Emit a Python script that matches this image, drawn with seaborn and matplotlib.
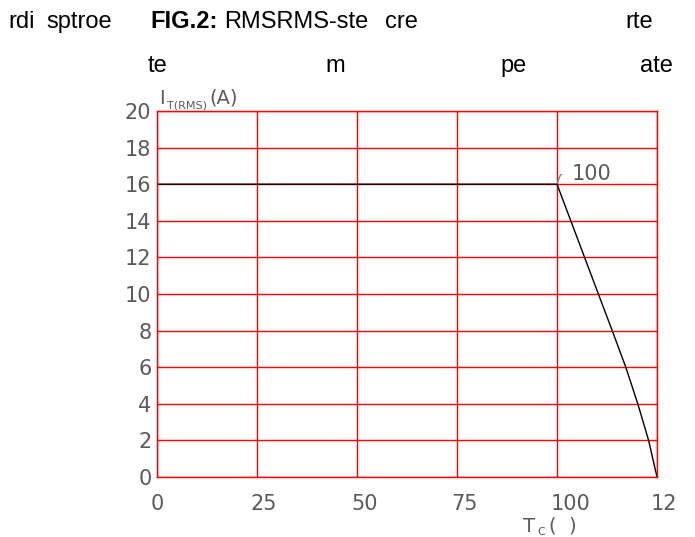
import numpy as np
import pandas as pd
import seaborn as sns
import matplotlib.pyplot as plt
from matplotlib.transforms import ScaledTranslation

# RMS current vs case temperature
case_temp = [0, 100, 105, 110, 113.8, 117.2, 120.2, 122.9, 125]
rms_current = [16, 16, 13.1, 10.2, 8, 6, 4, 2, 0]
x_ticks = [0, 25, 50, 75, 100, 125]
x_tick_labels = ["0", "25", "50", "75", "100", "12"]
y_ticks = list(range(0, 21, 2))

# garbled header fragments: (text, x px, baseline y px, bold)
header_bits = [
    ("rdi", 8, 28, False), ("sptroe", 46, 28, False),
    ("FIG.2:", 150, 28, True), ("RMSRMS-ste", 224, 28, False),
    ("cre", 385, 28, False), ("rte", 625, 28, False),
    ("te", 148, 72, False), ("m", 325, 72, False),
    ("pe", 500, 72, False), ("ate", 640, 72, False),
]

sns.set_style("white")
plt.rcParams["font.family"] = ["DejaVu Sans"]

W, H = 695, 537
fig = plt.figure(figsize=(W / 100, H / 100), dpi=100)
ax = fig.add_axes([157 / W, 60 / H, 500 / W, 366 / H])

df = pd.DataFrame({"Tc": case_temp, "I": rms_current})
sns.lineplot(data=df, x="Tc", y="I", color="black", lw=1, ax=ax)

ax.set_xlim(0, 125)
ax.set_ylim(0, 20)
ax.set_xticks(x_ticks)
ax.set_xticklabels(x_tick_labels, ha="left")
ax.set_yticks(y_ticks)
ax.set_yticks(np.arange(0, 20.01, 0.4), minor=True)
ax.set_xlabel("")
ax.set_ylabel("")
ax.grid(True, which="major", color="red", lw=1)
for s in ax.spines.values():
    s.set_color("red")
    s.set_linewidth(1)

gray = "#5a5a5a"
ax.tick_params(axis="y", which="both", direction="in", colors="red",
               labelcolor=gray, labelsize=15, length=4, width=1, pad=4)
ax.tick_params(axis="x", which="major", direction="out", colors="red",
               labelcolor=gray, labelsize=15, length=5, width=1, pad=7)
shift = ScaledTranslation(-6 / 100, 0, fig.dpi_scale_trans)
for lab in ax.get_xticklabels():
    lab.set_transform(lab.get_transform() + shift)

# knee annotation
ax.annotate("100", xy=(100, 16), xytext=(15, 10), textcoords="offset pixels",
            color=gray, fontsize=15, va="center", ha="left",
            arrowprops=dict(arrowstyle="-", color="#888888", lw=1,
                            shrinkA=5, shrinkB=1, relpos=(0, 0.5),
                            connectionstyle="angle,angleA=0,angleB=70,rad=2"))

def ftext(x, y, s, **kw):
    fig.text(x / W, 1 - y / H, s, **kw)

# axis labels
ftext(159, 104, "I", color=gray, fontsize=14, va="baseline")
ftext(167, 108, "T(RMS)", color=gray, fontsize=8, va="baseline")
ftext(209, 104, "(A)", color=gray, fontsize=14, va="baseline")
ftext(523, 532, "T", color=gray, fontsize=14, va="baseline")
ftext(537, 535, "C", color=gray, fontsize=8, va="baseline")
ftext(548, 532, "(", color=gray, fontsize=14, va="baseline")
ftext(568, 532, ")", color=gray, fontsize=14, va="baseline")

for txt, x, y, bold in header_bits:
    ftext(x, y, txt, fontsize=17, va="baseline", color="black",
          family=["Liberation Sans", "DejaVu Sans"],
          fontweight="bold" if bold else "normal")

fig.savefig("out.png", dpi=100)
